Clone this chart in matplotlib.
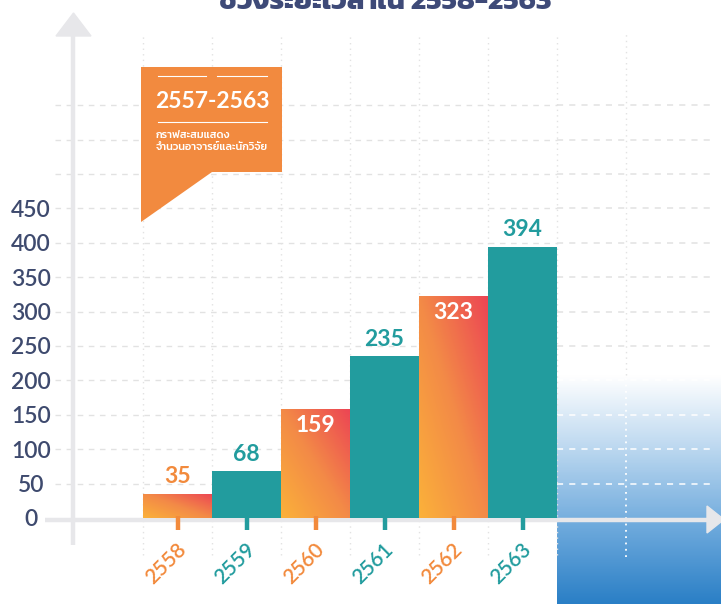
import matplotlib
matplotlib.use("Agg")
import matplotlib.pyplot as plt
import numpy as np
from matplotlib.colors import LinearSegmentedColormap
from matplotlib.patches import Polygon

# ---------------- data ----------------
years = ["2558", "2559", "2560", "2561", "2562", "2563"]
values = [35, 68, 159, 235, 323, 394]
ytick_vals = [0, 50, 100, 150, 200, 250, 300, 350, 400, 450]
title_text = "ช่วงระยะเวลาใน 2558-2563"
box_title = "2557-2563"
box_lines = ["กราฟสะสมแสดง", "จำนวนอาจารย์และนักวิจัย"]

# ---------------- style ----------------
TEAL = "#229c9e"
ORANGE = "#f28a3c"
NAVY = "#3e4a6e"
GRID = "#e2e2e2"
AXISC = "#e7e7ea"
FONT = ["Lato", "Kanit", "DejaVu Sans"]
plt.rcParams["font.family"] = FONT

W, H = 721, 604
X0, BW, Y0, S = 143.0, 69.0, 518.0, 0.688


def dx(px):
    return (px - X0) / BW - 0.5


def dy(py):
    return (Y0 - py) / S


fig = plt.figure(figsize=(W / 100, H / 100), dpi=100)
ax = fig.add_axes([X0 / W, (H - Y0) / H, 6 * BW / W, (Y0 - 33) / H])
ax.set_autoscale_on(False)
ax.set_xlim(-0.5, 5.5)
ax.set_ylim(0, dy(33))
for s in ax.spines.values():
    s.set_visible(False)
ax.set_facecolor("none")

# blue gradient box (bottom right)
bcmap = LinearSegmentedColormap.from_list("b", ["#ffffff", "#b9d6ef", "#6da9dc", "#2a7fc6"])
grad = np.linspace(0, 1, 256).reshape(-1, 1)
ax.imshow(grad, cmap=bcmap, aspect="auto", origin="upper",
          extent=[dx(557), dx(721), dy(604), dy(375)], clip_on=False, zorder=0)

# horizontal dashed grid
for v in range(50, 601, 50):
    ax.plot([dx(55), dx(557)], [v, v], color=GRID, lw=1, ls=(0, (4, 4)), clip_on=False, zorder=1)
    c = "#ffffff" if (Y0 - v * S) > 380 else GRID
    ax.plot([dx(557), dx(715)], [v, v], color=c, lw=1.1, ls=(0, (4, 4)), clip_on=False, zorder=1)

# vertical dotted grid at bar edges
n = len(years)
for k in range(n + 2):
    xe = k - 0.5
    if k == n + 1:
        ax.plot([xe, xe], [dy(375), dy(33)], color=GRID, lw=1.0, ls=(0, (1, 3)), clip_on=False, zorder=1)
        ax.plot([xe, xe], [dy(557), dy(375)], color="#ffffff", lw=1.3, ls=(0, (1, 2.5)), clip_on=False, zorder=1)
    else:
        ax.plot([xe, xe], [dy(555), dy(33)], color=GRID, lw=1.0, ls=(0, (1, 3)), clip_on=False, zorder=1)

# axes lines with arrows
ax.plot([dx(73), dx(73)], [dy(545), dy(34)], color=AXISC, lw=3.2, clip_on=False, zorder=2, solid_capstyle="butt")
ax.add_patch(Polygon([[dx(56), dy(36)], [dx(91), dy(36)], [dx(73.5), dy(13)]], closed=True,
                     color=AXISC, clip_on=False, zorder=2))
ax.plot([dx(45), dx(708)], [dy(519.5), dy(519.5)], color=AXISC, lw=3.2, clip_on=False, zorder=2,
        solid_capstyle="butt")
ax.add_patch(Polygon([[dx(707), dy(506)], [dx(707), dy(533)], [dx(724), dy(519.5)]], closed=True,
                     color=AXISC, clip_on=False, zorder=2))

# bars
xs = np.arange(n)
gcmap = LinearSegmentedColormap.from_list("g", ["#fbb13a", "#f38a47", "#ec4554"])
uu, vv = np.meshgrid(np.linspace(0, 1, 60), np.linspace(0, 1, 120))
tt = (uu * 0.9 + vv * 0.9) / 1.8
for i, (x, v) in enumerate(zip(xs, values)):
    if i % 2 == 1:
        ax.bar(x, v, width=1.0, color=TEAL, zorder=3, linewidth=0)
    else:
        bar = ax.bar(x, v, width=1.0, color="none", zorder=3, linewidth=0)[0]
        im = ax.imshow(tt, cmap=gcmap, aspect="auto", origin="lower",
                       extent=[x - 0.5, x + 0.5, 0, v], zorder=3, vmin=0, vmax=1)
        im.set_clip_path(bar)

# value labels
for i, (x, v) in enumerate(zip(xs, values)):
    inside = i in (2, 4)
    col = "white" if inside else (ORANGE if i % 2 == 0 else TEAL)
    off = -17 if inside else 17
    ax.annotate(str(v), (x, v), xytext=(0, off * 0.72), textcoords="offset points",
                ha="center", va="center", fontsize=16.5, fontweight="bold", color=col, zorder=4)

# x tick marks and labels
for i, x in enumerate(xs):
    col = ORANGE if i % 2 == 0 else TEAL
    ax.plot([x, x], [dy(516), dy(530)], color=col, lw=3.2, clip_on=False, zorder=4, solid_capstyle="butt")
    ax.text(x - 0.17, dy(564), years[i], rotation=45, rotation_mode="anchor", ha="center", va="center",
            fontsize=15, color=col, fontweight="semibold", zorder=4)

# y tick labels
ax.set_xticks([])
ax.set_yticks(ytick_vals)
ax.set_yticklabels([str(v) for v in ytick_vals])
ax.tick_params(axis="y", length=0, pad=(X0 - 31) * 0.72, labelsize=16.5, labelcolor=NAVY)
for t in ax.get_yticklabels():
    t.set_fontweight("semibold")
    t.set_horizontalalignment("center")

# callout box
ax.add_patch(Polygon([[dx(141), dy(67)], [dx(282), dy(67)], [dx(282), dy(172)], [dx(212), dy(172)],
                      [dx(141), dy(222)]], closed=True, color="#f28a3f", clip_on=False, zorder=5, lw=0))
ax.plot([dx(158), dx(206)], [dy(76), dy(76)], color="white", lw=0.8, clip_on=False, zorder=6)
ax.plot([dx(217), dx(267)], [dy(76), dy(76)], color="white", lw=0.8, clip_on=False, zorder=6)
ax.plot([dx(158), dx(267)], [dy(122), dy(122)], color="white", lw=0.8, clip_on=False, zorder=6)
ax.text(dx(212), dy(102), box_title, ha="center", va="center", color="white", fontsize=16.5,
        fontweight="bold", zorder=6)
ax.text(dx(156), dy(136), box_lines[0], ha="left", va="center", color="white", fontsize=7.8,
        fontweight="medium", zorder=6, family=["Kanit", "DejaVu Sans"])
ax.text(dx(156), dy(148), box_lines[1], ha="left", va="center", color="white", fontsize=7.8,
        fontweight="medium", zorder=6, family=["Kanit", "DejaVu Sans"])

# title (mostly cropped at top, as in the reference)
fig.text(385 / W, 1 - 9 / H, title_text, ha="center", va="baseline", fontsize=21,
         fontweight="bold", color="#3e4a78", family=["Kanit", "DejaVu Sans"])

fig.savefig("out.png", dpi=100)
